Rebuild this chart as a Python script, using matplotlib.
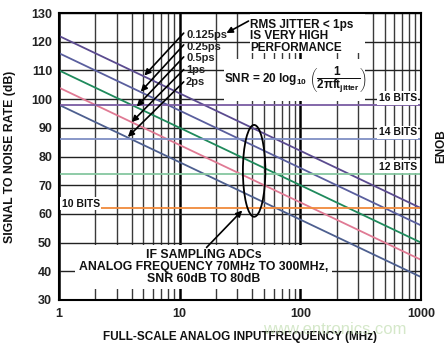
import matplotlib
matplotlib.use("Agg")
import matplotlib.pyplot as plt
from matplotlib.patches import Ellipse, Rectangle
from matplotlib.ticker import LogLocator, FixedLocator, NullFormatter

plt.rcParams['font.family'] = ['Liberation Sans', 'DejaVu Sans']
plt.rcParams['mathtext.fontset'] = 'custom'
plt.rcParams['mathtext.rm'] = 'Liberation Sans:bold'
plt.rcParams['mathtext.it'] = 'Liberation Sans:bold'
plt.rcParams['mathtext.bf'] = 'Liberation Sans:bold'

# ---- data ----
freq_ends = [1, 1000]                      # MHz, line endpoints
jitter_labels = ['0.125ps', '0.25ps', '0.5ps', '1ps', '2ps']
snr_0125 = [122, 62]
snr_025 = [116, 56]
snr_05 = [110, 50]
snr_1 = [104, 44]
snr_2 = [98, 38]
jitter_colors = ['#5b4b8f', '#5a5f9e', '#1f8a5c', '#e07a94', '#4d5f8f']

bit_labels = ['16 BITS', '14 BITS', '12 BITS', '10 BITS']
bit_snr = [98.1, 86.0, 74.0, 62.0]
bit_colors = ['#7a5ca3', '#7f8fc4', '#86c7a0', '#f08a3c']

x_ticks = [1, 10, 100, 1000]
y_ticks = [30, 40, 50, 60, 70, 80, 90, 100, 110, 120, 130]

fig = plt.figure(figsize=(4.48, 3.45), dpi=100)
ax = fig.add_axes([59/448, 45/345, 362/448, 287/345])
ax.set_xscale('log')
ax.set_xlim(1, 1000)
ax.set_ylim(30, 130)
ax.set_axisbelow(True)

ax.xaxis.set_major_locator(FixedLocator(x_ticks))
ax.set_xticklabels([str(t) for t in x_ticks])
ax.xaxis.set_minor_locator(LogLocator(base=10, subs=[2, 3, 4, 5, 6, 7, 8, 9]))
ax.xaxis.set_minor_formatter(NullFormatter())
ax.set_yticks(y_ticks)
ax.tick_params(which='both', length=0)
ax.tick_params(axis='y', pad=5, labelsize=9)
ax.tick_params(axis='x', pad=6, labelsize=9)
for lab in ax.get_xticklabels() + ax.get_yticklabels():
    lab.set_fontweight('bold')
    lab.set_color('#222222')

ax.grid(which='minor', axis='x', color='#3a3a3a', lw=1.0)
ax.grid(which='major', axis='x', color='black', lw=1.8)
ax.grid(which='major', axis='y', color='#222222', lw=1.0)
for s in ax.spines.values():
    s.set_linewidth(1.5)
    s.set_color('black')

# jitter lines
for snr, c in zip([snr_0125, snr_025, snr_05, snr_1, snr_2], jitter_colors):
    ax.plot(freq_ends, snr, color=c, lw=1.3, zorder=2)
# bit lines
for v, c in zip(bit_snr, bit_colors):
    ax.plot(freq_ends, [v, v], color=c, lw=1.3, zorder=2)

# white boxes hiding the grid
ax.add_patch(Rectangle((38, 116), 344 - 38, 14, fc='white', ec='none', zorder=1))
ax.add_patch(Rectangle((23.1, 99.5), 344 - 23.1, 113.8 - 99.5, fc='white', ec='none', zorder=1))

tb = dict(family=['Liberation Sans', 'DejaVu Sans'], fontweight='bold', color='#111111')

# jitter labels and arrows
lab_y = [122.3, 118.3, 114.2, 110.0, 105.8]
tails = [(10.8, 123.0), (10.8, 118.9), (10.8, 114.7), (10.8, 110.3), (10.8, 106.0)]
heads = [(5.1, 108.2), (4.76, 102.6), (4.41, 97.4), (4.01, 92.0), (3.72, 86.8)]
for lab, ly, t, h in zip(jitter_labels, lab_y, tails, heads):
    ax.text(11.3, ly, lab, fontsize=8, va='center', ha='left', zorder=5,
            family=['Liberation Sans'], fontweight='bold', color='#222222')
    ax.annotate('', xy=h, xytext=t,
                arrowprops=dict(arrowstyle='-|>', color='black', lw=1.2,
                                mutation_scale=9, shrinkA=0, shrinkB=0), zorder=5)

# RMS jitter note
ax.text(38.5, 128.0, 'RMS JITTER < 1ps\nIS VERY HIGH\nPERFORMANCE', fontsize=8.5,
        va='top', ha='left', linespacing=0.95, zorder=5, **tb)
ax.annotate('', xy=(24.4, 123.0), xytext=(37.2, 127.2),
            arrowprops=dict(arrowstyle='-|>', color='black', lw=1.2,
                            mutation_scale=9, shrinkA=0, shrinkB=0), zorder=5)

# formula
ax.text(23.5, 106.5,
        r'SNR = 20 log$_{10}$ $\left(\dfrac{1}{2\pi f t_{\mathrm{jitter}}}\right)$',
        fontsize=8.5, va='center', ha='left', zorder=5, **tb)

# bit labels
bit_pos = [(920, 100.4), (920, 88.5), (920, 76.4)]
for lab, (bx, by) in zip(bit_labels[:3], bit_pos):
    ax.text(bx, by, lab, fontsize=7.5, va='center', ha='right', zorder=5,
            bbox=dict(boxstyle='square,pad=0.15', fc='white', ec='none'), **tb)
ax.text(1.05, 63.5, bit_labels[3], fontsize=7.5, va='center', ha='left', zorder=5,
        bbox=dict(boxstyle='square,pad=0.15', fc='white', ec='none'), **tb)

# ellipse
ax.add_patch(Ellipse((0.539, 0.45), 0.062, 0.32, transform=ax.transAxes,
                     fill=False, ec='black', lw=1.3, zorder=4))

# IF sampling note
ax.text(0.40, 0.115, 'IF SAMPLING ADCs\nANALOG FREQUENCY 70MHz TO 300MHz,\nSNR 60dB TO 80dB',
        transform=ax.transAxes, fontsize=8.8, va='center', ha='center',
        linespacing=1.0, zorder=5,
        bbox=dict(boxstyle='square,pad=0.3', fc='white', ec='none'), **tb)
ax.annotate('', xy=(33, 61.2), xytext=(16.7, 48.3),
            arrowprops=dict(arrowstyle='-|>', color='black', lw=1.2,
                            mutation_scale=9, shrinkA=0, shrinkB=0), zorder=6)

# axis labels
ax.set_xlabel('FULL-SCALE ANALOG INPUTFREQUENCY (MHz)', fontsize=8.5, labelpad=8, **tb)
ax.set_ylabel('SIGNAL TO NOISE RATE (dB)', fontsize=8.8, labelpad=11, **tb)
fig.text(441/448, 1 - 146/345, 'ENOB', rotation=90, fontsize=8.5, va='center', ha='center', **tb)

# watermark
fig.text(335/448, 1 - 329/345, 'www.entronics.com', fontsize=12, color='#b9d9a6',
         alpha=0.6, ha='center', va='center', zorder=0)

fig.savefig('out.png', dpi=100)
